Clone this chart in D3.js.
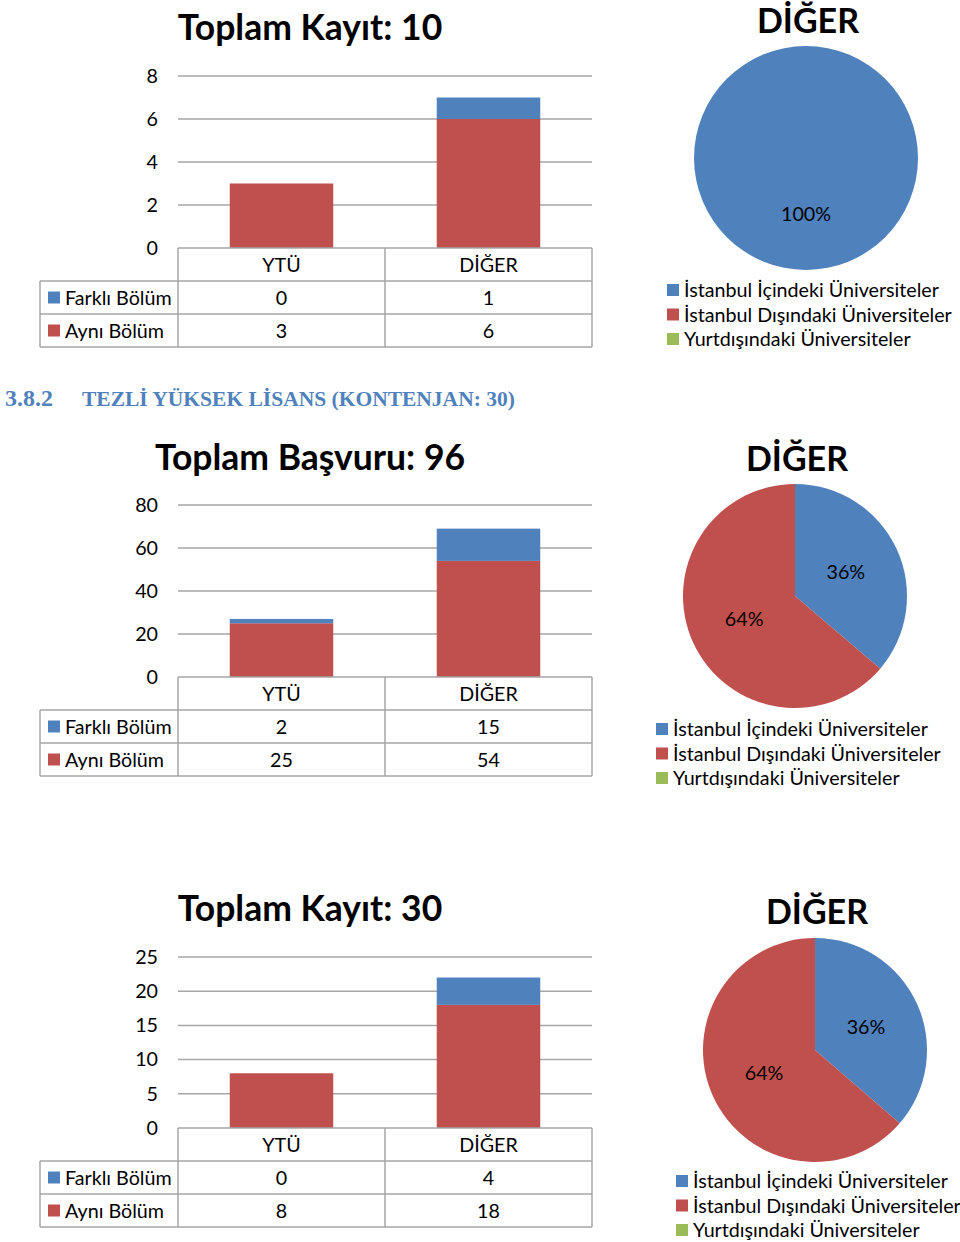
<!DOCTYPE html>
<html><head><meta charset="utf-8">
<script src="https://cdn.jsdelivr.net/npm/d3@7"></script>
<style>body{margin:0;background:#fff}svg{display:block}</style>
</head><body>
<svg id="c" width="960" height="1242"></svg>
<script>
// ---- data ----
const categories = ["YTÜ", "DİĞER"];
const seriesNames = ["Farklı Bölüm", "Aynı Bölüm"];
const kayit1Farkli = [0, 1];
const kayit1Ayni = [3, 6];
const basvuruFarkli = [2, 15];
const basvuruAyni = [25, 54];
const kayit2Farkli = [0, 4];
const kayit2Ayni = [8, 18];
const ticks1 = [0, 2, 4, 6, 8];
const ticks2 = [0, 20, 40, 60, 80];
const ticks3 = [0, 5, 10, 15, 20, 25];
const pieLabels = ["İstanbul İçindeki Üniversiteler", "İstanbul Dışındaki Üniversiteler", "Yurtdışındaki Üniversiteler"];
const pie1Values = [7, 0, 0];
const pie2Values = [25, 44, 0];
const pie3Values = [8, 14, 0];
const titles = ["Toplam Kayıt: 10", "Toplam Başvuru: 96", "Toplam Kayıt: 30"];
const pieTitle = "DİĞER";
const heading = ["3.8.2", "TEZLİ YÜKSEK LİSANS (KONTENJAN: 30)"];

const BLUE = "#4f81bd", RED = "#c0504d", GREEN = "#9bbb59";
const pieColors = [BLUE, RED, GREEN];
const seriesColors = {"Farklı Bölüm": BLUE, "Aynı Bölüm": RED};
const FONT = "Lato, 'Open Sans', sans-serif";
const GRID = "#a6a6a6";
const FS = 19.7;

const svg = d3.select("#c");

function barSection(cfg) {
  const g = svg.append("g");
  const x = d3.scaleBand().domain(categories).range([178, 592]).paddingInner(0.5).paddingOuter(0.25);
  const y = d3.scaleLinear().domain([0, d3.max(cfg.ticks)]).range([cfg.bottom, cfg.top]);
  // title
  g.append("text").attr("x", 310).attr("y", cfg.titleY).attr("text-anchor", "middle")
    .attr("font-family", FONT).attr("font-weight", "bold").attr("font-size", 35.5).attr("fill", "#000")
    .text(cfg.title);
  // gridlines
  g.append("g").selectAll("line").data(cfg.ticks.slice(1)).join("line")
    .attr("x1", 178).attr("x2", 592).attr("y1", d => y(d)).attr("y2", d => y(d))
    .attr("stroke", GRID).attr("stroke-width", 1.5);
  // axis
  const ax = g.append("g").attr("transform", "translate(178,0)")
    .call(d3.axisLeft(y).tickValues(cfg.ticks).tickSize(0).tickPadding(20));
  ax.select(".domain").remove();
  ax.selectAll("text").attr("font-family", FONT).attr("font-size", FS).attr("fill", "#000");
  // bars
  const rows = categories.map((c, i) => ({cat: c, "Aynı Bölüm": cfg.ayni[i], "Farklı Bölüm": cfg.farkli[i]}));
  const stack = d3.stack().keys(["Aynı Bölüm", "Farklı Bölüm"])(rows);
  g.append("g").selectAll("g").data(stack).join("g").attr("fill", s => seriesColors[s.key])
    .selectAll("rect").data(s => s).join("rect")
    .attr("x", d => x(d.data.cat)).attr("width", x.bandwidth())
    .attr("y", d => y(d[1])).attr("height", d => y(d[0]) - y(d[1]));
  // table
  const rh = 33, b = cfg.bottom;
  const t = g.append("g").attr("stroke", GRID).attr("stroke-width", 1.5);
  [[178, b, 178, b + 3 * rh], [385, b, 385, b + 3 * rh], [592, b, 592, b + 3 * rh], [40, b + rh, 40, b + 3 * rh],
   [178, b, 592, b], [40, b + rh, 592, b + rh], [40, b + 2 * rh, 592, b + 2 * rh], [40, b + 3 * rh, 592, b + 3 * rh]]
    .forEach(l => t.append("line").attr("x1", l[0]).attr("y1", l[1]).attr("x2", l[2]).attr("y2", l[3]));
  g.append("g").selectAll("text").data(categories).join("text")
    .attr("x", d => x(d) + x.bandwidth() / 2).attr("y", b + rh / 2 + 7).attr("text-anchor", "middle")
    .attr("font-family", FONT).attr("font-size", FS).attr("fill", "#000").text(d => d);
  const vals = {"Farklı Bölüm": cfg.farkli, "Aynı Bölüm": cfg.ayni};
  seriesNames.forEach((s, r) => {
    const cy = b + rh * (r + 1) + rh / 2;
    g.append("rect").attr("x", 48).attr("y", cy - 6).attr("width", 12).attr("height", 12).attr("fill", seriesColors[s]);
    g.append("text").attr("x", 65).attr("y", cy + 7).attr("font-family", FONT).attr("font-size", FS).attr("fill", "#000").text(s);
    vals[s].forEach((v, i) => {
      g.append("text").attr("x", x(categories[i]) + x.bandwidth() / 2).attr("y", cy + 7).attr("text-anchor", "middle")
        .attr("font-family", FONT).attr("font-size", FS).attr("fill", "#000").text(v);
    });
  });
}

function pieSection(cfg) {
  const g = svg.append("g");
  g.append("text").attr("x", cfg.cx + 2).attr("y", cfg.titleY).attr("text-anchor", "middle")
    .attr("font-family", FONT).attr("font-weight", "bold").attr("font-size", 34).attr("fill", "#000").text(pieTitle);
  const data = cfg.values.map((v, i) => ({v, i}));
  const arcs = d3.pie().sort(null).value(d => d.v)(data);
  const arc = d3.arc().innerRadius(0).outerRadius(cfg.r);
  const pg = g.append("g").attr("transform", `translate(${cfg.cx},${cfg.cy})`);
  pg.selectAll("path").data(arcs.filter(a => a.data.v > 0)).join("path")
    .attr("d", arc).attr("fill", d => pieColors[d.data.i]);
  const total = d3.sum(cfg.values);
  const lab = d3.arc().innerRadius(cfg.r * 0.5).outerRadius(cfg.r * 0.5);
  pg.selectAll("text").data(arcs.filter(a => a.data.v > 0)).join("text")
    .attr("transform", d => {
      if (d.endAngle - d.startAngle > 6.2) return `translate(0,${cfg.r * 0.5})`;
      const c = lab.centroid(d); return `translate(${c[0]},${c[1]})`;
    })
    .attr("dy", "0.35em").attr("text-anchor", "middle")
    .attr("font-family", FONT).attr("font-size", FS).attr("fill", "#000")
    .text(d => Math.round(d.data.v / total * 100) + "%");
  pieLabels.forEach((l, i) => {
    const yy = cfg.legY + i * 24.5;
    g.append("rect").attr("x", cfg.legX).attr("y", yy - 6).attr("width", 12).attr("height", 12).attr("fill", pieColors[i]);
    g.append("text").attr("x", cfg.legX + 17).attr("y", yy + 7).attr("font-family", FONT).attr("font-size", FS)
      .attr("fill", "#000").text(l);
  });
}

barSection({title: titles[0], titleY: 40, top: 76, bottom: 248, ticks: ticks1, farkli: kayit1Farkli, ayni: kayit1Ayni});
pieSection({values: pie1Values, cx: 806, cy: 158, r: 112, titleY: 33, legX: 667, legY: 290});

// heading
const h = svg.append("text").attr("y", 406).attr("font-family", "'Liberation Serif', serif").attr("font-weight", "bold")
  .attr("font-size", 21.5).attr("fill", "#4f81bd");
h.append("tspan").attr("x", 5).attr("font-size", 24).text(heading[0]);
h.append("tspan").attr("x", 82).text(heading[1]);

barSection({title: titles[1], titleY: 470, top: 505, bottom: 677, ticks: ticks2, farkli: basvuruFarkli, ayni: basvuruAyni});
pieSection({values: pie2Values, cx: 795, cy: 596, r: 112, titleY: 471, legX: 656, legY: 729});

barSection({title: titles[2], titleY: 921, top: 957, bottom: 1128, ticks: ticks3, farkli: kayit2Farkli, ayni: kayit2Ayni});
pieSection({values: pie3Values, cx: 815, cy: 1050, r: 112, titleY: 924, legX: 676, legY: 1181});
</script>
</body></html>
